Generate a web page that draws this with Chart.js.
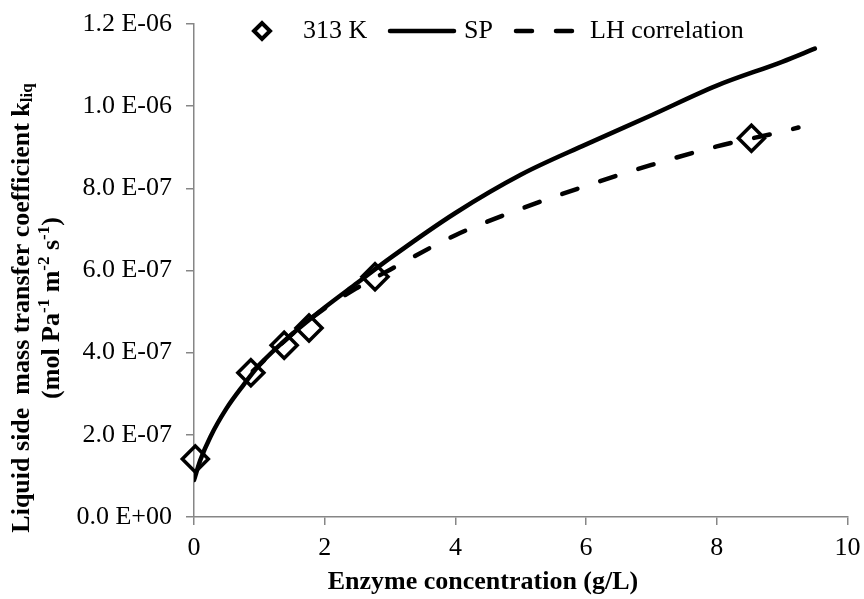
<!DOCTYPE html>
<html>
<head>
<meta charset="utf-8">
<script src="https://cdn.jsdelivr.net/npm/chart.js@4.4.0/dist/chart.umd.min.js"></script>
<style>
  html, body { margin: 0; padding: 0; background: #fff; }
  canvas { display: block; }
</style>
</head>
<body>
<canvas id="kliqChart" width="864" height="599"></canvas>
<script>
// measured k_liq at 313 K
const expConc = [0.02, 0.87, 1.38, 1.76, 2.77, 8.53];
const expKliq = [1.41e-7, 3.51e-7, 4.18e-7, 4.60e-7, 5.85e-7, 9.22e-7];

// SP model curve
const spConc = [0, 0.1, 0.25, 0.5, 0.75, 1, 1.5, 2, 2.5, 3, 4, 5, 6, 7, 8, 9, 9.5];
const spKliq = [0.90e-7, 1.40e-7, 1.95e-7, 2.65e-7, 3.20e-7, 3.70e-7, 4.45e-7, 5.10e-7, 5.70e-7,
                6.30e-7, 7.40e-7, 8.33e-7, 9.07e-7, 9.78e-7, 10.50e-7, 11.08e-7, 11.40e-7];

// LH correlation curve
const lhConc = [0.9, 1.5, 2, 2.5, 3, 4, 5, 6, 7, 8, 9, 9.25];
const lhKliq = [3.55e-7, 4.45e-7, 5.08e-7, 5.58e-7, 6.02e-7, 6.86e-7, 7.50e-7, 8.06e-7,
                8.57e-7, 9.02e-7, 9.38e-7, 9.48e-7];

const xTicks = [0, 2, 4, 6, 8, 10];
const yTicks = [0, 2e-7, 4e-7, 6e-7, 8e-7, 1.0e-6, 1.2e-6];

const SERIF = '"Liberation Serif", "Times New Roman", serif';
const AXIS_GREY = '#868686';

const toPoints = (xs, ys) => xs.map((x, i) => ({ x: x, y: ys[i] }));

// "1.2 E-06" style labels
const sciLabel = (v) => {
  if (Math.abs(v) < 1e-12) return '0.0 E+00';
  const [m, e] = v.toExponential(1).split('e');
  const n = parseInt(e, 10);
  const exp = (n < 0 ? '-' : '+') + String(Math.abs(n)).padStart(2, '0');
  return m + ' E' + exp;
};

// draws a line of text made of runs (normal / sup / sub), centred on 0
const drawRuns = (ctx, runs, size) => {
  const small = Math.round(size * 0.65);
  const fontOf = (r) => 'bold ' + (r.sup || r.sub ? small : size) + 'px ' + SERIF;
  let total = 0;
  runs.forEach(r => { ctx.font = fontOf(r); total += ctx.measureText(r.t).width; });
  let x = -total / 2;
  runs.forEach(r => {
    ctx.font = fontOf(r);
    let dy = 0;
    if (r.sup) dy = -size * 0.3;
    if (r.sub) dy = size * 0.22;
    ctx.fillText(r.t, x, dy);
    x += ctx.measureText(r.t).width;
  });
};

const titlesAndLegend = {
  id: 'titlesAndLegend',
  afterDraw(chart) {
    const ctx = chart.ctx;
    ctx.save();
    ctx.fillStyle = '#000';
    ctx.textBaseline = 'middle';
    ctx.textAlign = 'left';

    // y axis title, two rotated lines
    const yLines = [
      { cx: 22, runs: [{ t: 'Liquid side  mass transfer coefficient k' }, { t: 'liq', sub: true }] },
      { cx: 52, runs: [{ t: '(mol Pa' }, { t: '-1', sup: true }, { t: ' m' }, { t: '-2', sup: true },
                       { t: ' s' }, { t: '-1', sup: true }, { t: ')' }] }
    ];
    yLines.forEach(line => {
      ctx.save();
      ctx.translate(line.cx, 308);
      ctx.rotate(-Math.PI / 2);
      drawRuns(ctx, line.runs, 26);
      ctx.restore();
    });

    // x axis title
    ctx.save();
    ctx.translate(483, 582);
    drawRuns(ctx, [{ t: 'Enzyme concentration (g/L)' }], 26);
    ctx.restore();

    // legend
    const ly = 31;
    ctx.strokeStyle = '#000';
    ctx.lineWidth = 4;
    ctx.beginPath();
    ctx.moveTo(254, ly); ctx.lineTo(262, ly - 8); ctx.lineTo(270, ly); ctx.lineTo(262, ly + 8);
    ctx.closePath();
    ctx.stroke();

    ctx.lineWidth = 4.5;
    ctx.lineCap = 'round';
    ctx.beginPath();
    ctx.moveTo(390, ly); ctx.lineTo(454, ly);
    ctx.stroke();

    ctx.setLineDash([16, 24]);
    ctx.beginPath();
    ctx.moveTo(516, ly); ctx.lineTo(575, ly);
    ctx.stroke();
    ctx.setLineDash([]);

    ctx.font = '26px ' + SERIF;
    ctx.fillText('313 K', 303, ly);
    ctx.fillText('SP', 464, ly);
    ctx.fillText('LH correlation', 590, ly);
    ctx.restore();
  }
};

new Chart(document.getElementById('kliqChart'), {
  type: 'scatter',
  data: {
    datasets: [
      {
        label: '313 K',
        data: toPoints(expConc, expKliq),
        showLine: false,
        pointStyle: 'rectRot',
        pointRadius: 13,
        pointHoverRadius: 13,
        pointBorderWidth: 3.5,
        pointBorderColor: '#000',
        pointBackgroundColor: 'rgba(0,0,0,0)',
        clip: false
      },
      {
        label: 'SP',
        data: toPoints(spConc, spKliq),
        showLine: true,
        borderColor: '#000',
        borderWidth: 4.5,
        pointRadius: 0,
        cubicInterpolationMode: 'monotone',
        borderCapStyle: 'round'
      },
      {
        label: 'LH correlation',
        data: toPoints(lhConc, lhKliq),
        showLine: true,
        borderColor: '#000',
        borderWidth: 4.5,
        borderDash: [16, 24],
        borderCapStyle: 'round',
        pointRadius: 0,
        cubicInterpolationMode: 'monotone'
      }
    ]
  },
  options: {
    responsive: false,
    animation: false,
    devicePixelRatio: 1,
    layout: { padding: { left: 0, right: 16, top: 24, bottom: 0 } },
    plugins: {
      legend: { display: false },
      tooltip: { enabled: false }
    },
    scales: {
      x: {
        type: 'linear',
        min: 0,
        max: 10,
        afterFit: (scale) => {
          scale.height = 82;
          scale.paddingLeft = 0;
          scale.paddingRight = 0;
        },
        afterBuildTicks: (scale) => { scale.ticks = xTicks.map(v => ({ value: v })); },
        ticks: {
          color: '#000',
          font: { family: SERIF, size: 26 },
          padding: 8,
          callback: (v) => String(v)
        },
        grid: { drawOnChartArea: false, drawTicks: true, tickLength: 8, color: AXIS_GREY, lineWidth: 1.5 },
        border: { color: AXIS_GREY, width: 1.5 }
      },
      y: {
        min: 0,
        max: 1.2e-6,
        afterFit: (scale) => {
          scale.width = 194;
          scale.paddingTop = 0;
          scale.paddingBottom = 0;
        },
        afterBuildTicks: (scale) => { scale.ticks = yTicks.map(v => ({ value: v })); },
        ticks: {
          color: '#000',
          font: { family: SERIF, size: 26 },
          padding: 14,
          callback: (v) => sciLabel(v)
        },
        grid: { drawOnChartArea: false, drawTicks: true, tickLength: 8, color: AXIS_GREY, lineWidth: 1.5 },
        border: { color: AXIS_GREY, width: 1.5 }
      }
    }
  },
  plugins: [titlesAndLegend]
});
</script>
</body>
</html>
